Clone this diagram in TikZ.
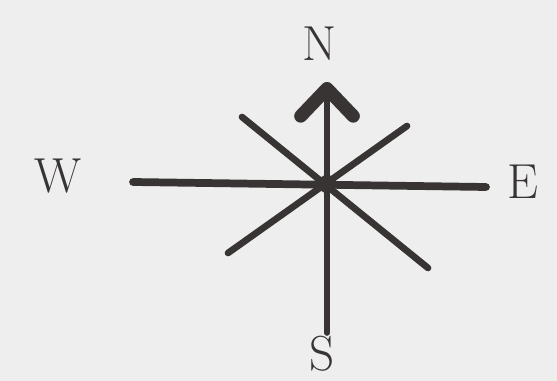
\documentclass[tikz,border=0pt]{standalone}
\usetikzlibrary{arrows.meta}
\definecolor{ink}{HTML}{383434}
\definecolor{paper}{HTML}{EEEEEE}
\begin{document}
\begin{tikzpicture}[x=0.02cm, y=-0.02cm,
    ray/.style={draw=ink, line width=4.4pt, line cap=round},
    diag/.style={ray, line width=3.8pt},
    arr/.style={ray, line width=3.2pt,
      -{Straight Barb[length=0.55cm, width=1.05cm, line width=7.5pt, round]}},
    lbl/.style={text=ink, font=\fontsize{28}{32}\selectfont, inner sep=0pt},
  ]
    \fill[paper] (0,0) rectangle (557,381);
    \useasboundingbox (0,0) rectangle (557,381);

    % Ends of the rays
    \coordinate (c) at (327,184);
    \coordinate (ntip) at (327,82);
    \coordinate (send) at (327,333);
    \coordinate (wend) at (133,182);
    \coordinate (eend) at (486,187);
    \coordinate (nw) at (242,117);
    \coordinate (ne) at (407,126);
    \coordinate (sw) at (228,253);
    \coordinate (se) at (428,268);

    % Labels
    \node[lbl] (n) at (320,44) {N};
    \node[lbl] (w) at (58,176) {W};
    \node[lbl] (e) at (523,182) {E};
    \node[lbl] (s) at (322,354) {S};

    % Rays
    \draw[ray] (wend) -- (eend);
    \draw[diag] (nw) -- (se);
    \draw[diag] (ne) -- (sw);
    \draw[ray, line width=3.2pt] (c) -- (send);
    \draw[arr] (c) -- (ntip);
    \fill[ink] (c) circle (9);
  \end{tikzpicture}
\end{document}
